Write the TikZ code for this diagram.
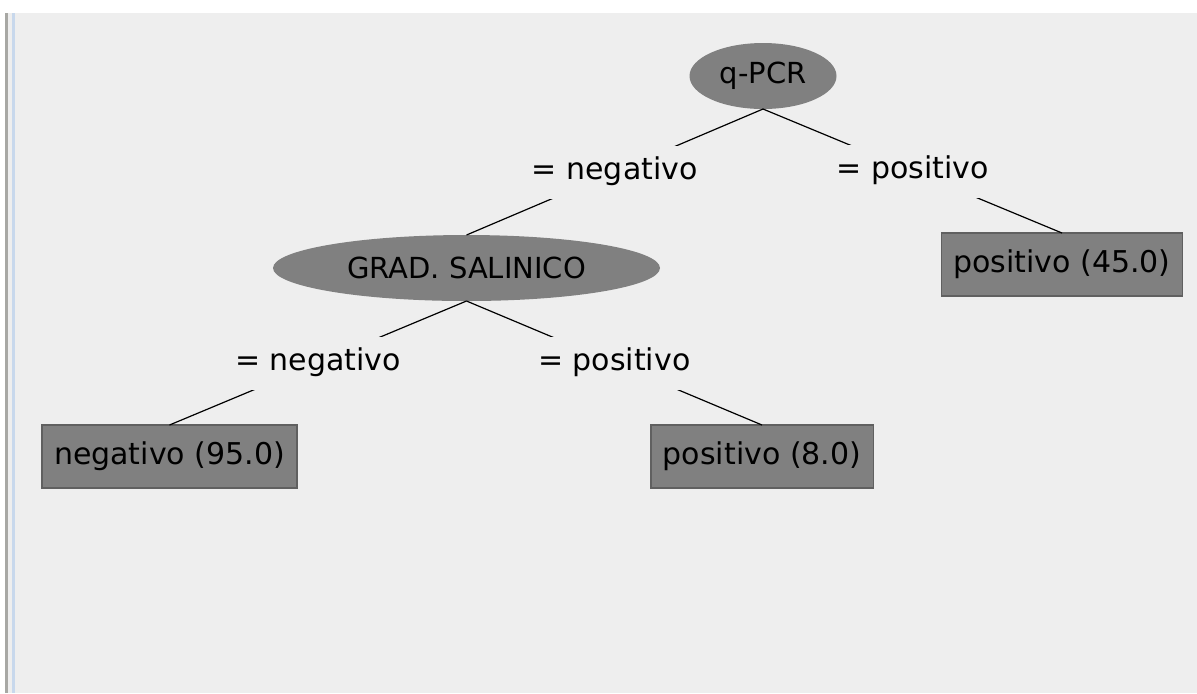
\documentclass[tikz,border=0pt]{standalone}
\usepackage{fontspec}
\setmainfont{DejaVu Sans}
\usetikzlibrary{positioning, shapes.geometric}
\definecolor{panelColor}{RGB}{238,238,238}
\definecolor{nodeColor}{RGB}{128,128,128}
\definecolor{leafBorder}{RGB}{96,96,96}
\definecolor{frameGray}{RGB}{168,168,164}
\definecolor{frameBlue}{RGB}{200,216,236}
\tikzset{split/.style={ellipse, fill=nodeColor, inner sep=0pt, outer sep=0pt, minimum height=33pt, font=\fontsize{14.5}{17}\selectfont}}
\tikzset{leaf/.style={rectangle, fill=nodeColor, draw=leafBorder, line width=0.6pt, inner xsep=6pt, inner ysep=0pt, outer sep=0pt, minimum height=31.5pt, font=\fontsize{15}{18}\selectfont}}
\tikzset{cond/.style={fill=panelColor, inner xsep=3pt, inner ysep=0pt, minimum height=26.5pt, text height=11pt, text depth=3.5pt, font=\fontsize{15}{18}\selectfont}}
\tikzstyle{branch} = [black, line width=0.6pt]

\begin{document}
\begin{tikzpicture}[x=0.5pt, y=-0.5pt, node distance=62pt]
	% Frame
	\useasboundingbox (0,0) rectangle (1197,693);
	\fill[white] (0,0) rectangle (1197,693);
	\fill[panelColor] (5,13) rectangle (1197,693);
	\fill[frameGray] (5,13) rectangle (8,693);
	\fill[frameBlue] (12,13) rectangle (15,693);

	% Nodes
	\node (qpcr) [split, minimum width=73.5pt] at (763,76) {q-PCR};
	\node (grad) [split, minimum width=193.5pt, below=63pt of qpcr, xshift=-148.25pt] {GRAD. SALINICO};
	\node (pos45) [leaf, below=of qpcr, xshift=149.5pt] {positivo (45.0)};
	\node (neg95) [leaf, below=of grad, xshift=-148.5pt] {negativo (95.0)};
	\node (pos8) [leaf, below=of grad, xshift=147.75pt] {positivo (8.0)};

	% Connectors
	\begin{scope}[branch]
	\draw (qpcr.south) -- node[cond] {= negativo} (grad.north);
	\draw (qpcr.south) -- node[cond] {= positivo} (pos45.north);
	\draw (grad.south) -- node[cond] {= negativo} (neg95.north);
	\draw (grad.south) -- node[cond] {= positivo} (pos8.north);
	\end{scope}

\end{tikzpicture}
\end{document}
